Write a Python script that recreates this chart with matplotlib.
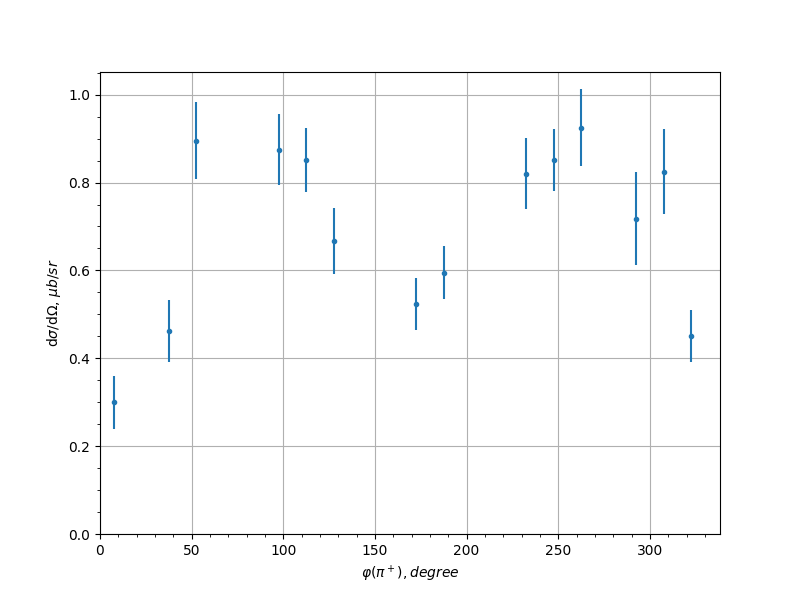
import matplotlib
matplotlib.use('Agg')
import matplotlib.pyplot as plt
import numpy as np

# angle bins (degree)
phi = np.array([7.5, 37.5, 52.5, 97.5, 112.5, 127.5, 172.5, 187.5,
                232.5, 247.5, 262.5, 292.5, 307.5, 322.5])
# cross section, mub/sr
xsec = np.array([0.300, 0.462, 0.895, 0.875, 0.852, 0.667, 0.524, 0.595,
                 0.820, 0.852, 0.925, 0.718, 0.825, 0.451])
xsec_err = np.array([0.060, 0.070, 0.088, 0.080, 0.073, 0.075, 0.059, 0.061,
                     0.081, 0.071, 0.088, 0.105, 0.096, 0.059])

fig = plt.figure(figsize=(8, 6), dpi=100)
plt.errorbar(phi, xsec, yerr=xsec_err, fmt='.')
plt.xlabel(r'$\varphi(\pi^+), degree$')
plt.ylabel(r'd$\sigma$/d$\Omega$, $\mu b/sr$')
plt.xlim(left=0)
plt.ylim(bottom=0)
plt.minorticks_on()
plt.grid(which='major')
plt.savefig('out.png')
